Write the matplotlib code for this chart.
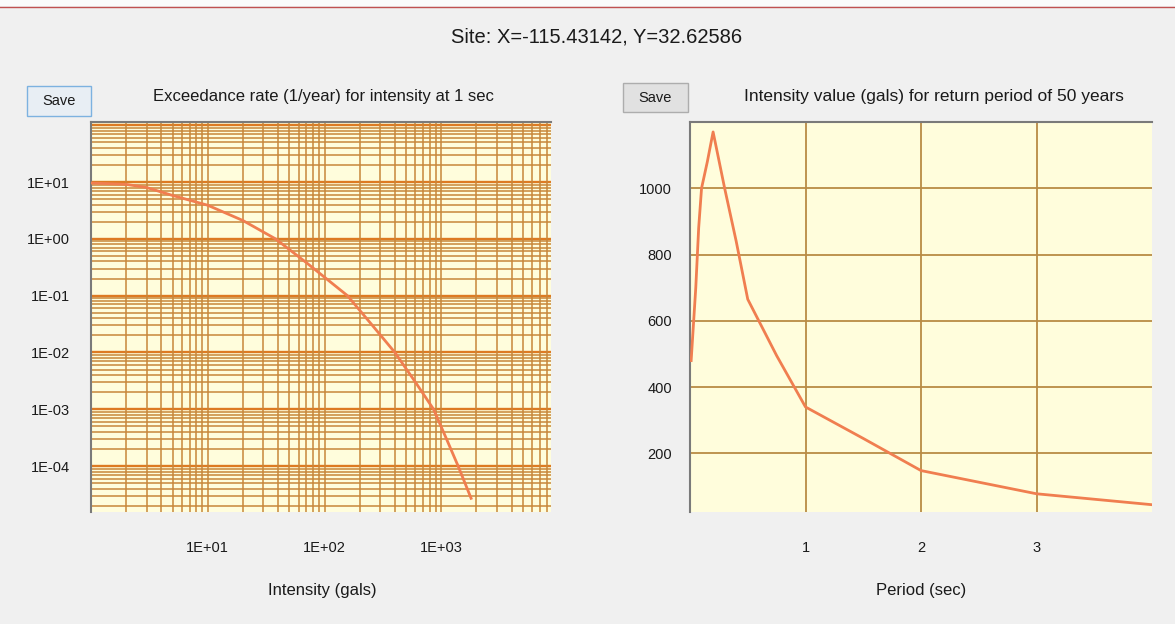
import matplotlib
matplotlib.use("Agg")
import matplotlib.pyplot as plt
from matplotlib.patches import Rectangle
from matplotlib.ticker import FixedLocator, NullFormatter, FuncFormatter
import numpy as np

# ---------------- data ----------------
site_title = "Site: X=-115.43142, Y=32.62586"
left_title = "Exceedance rate (1/year) for intensity at 1 sec"
right_title = "Intensity value (gals) for return period of 50 years"
left_xlabel = "Intensity (gals)"
right_xlabel = "Period (sec)"

intensity = [1, 2, 3, 5, 10, 20, 38, 70, 157, 250, 400, 600, 858, 1100, 1393, 1800]
exceed_rate = [9.6, 9.1, 8.0, 5.8, 3.9, 2.1, 1.0, 0.38, 0.1, 0.032, 0.01, 0.003,
               0.001, 0.00031, 0.0001, 0.000027]

period = [0.01, 0.05, 0.075, 0.1, 0.15, 0.2, 0.3, 0.4, 0.5, 0.75, 1.0, 1.5, 2.0, 3.0, 4.0]
spectral = [480, 700, 880, 1000, 1080, 1170, 1000, 840, 665, 495, 340, 245, 148, 78, 45]

left_yticks = [1e1, 1e0, 1e-1, 1e-2, 1e-3, 1e-4]
left_xticks = [1e1, 1e2, 1e3]
right_xticks = [1, 2, 3]
right_yticks = [200, 400, 600, 800, 1000]

# ---------------- styling ----------------
W, H = 1175, 624
BG = "#F0F0F0"
AX_BG = "#FFFDDC"
GRID = "#C8873A"
GRID_MAJ = "#DD7A22"
GRID_R = "#B98C45"
SPINE = "#7A7A7A"
LINE = "#F07E50"
TXT = "#1A1A1A"
FONT = ["Liberation Sans", "DejaVu Sans"]
plt.rcParams["font.family"] = FONT

fig = plt.figure(figsize=(W / 100, H / 100), dpi=100, facecolor=BG)


def fx(px):
    return px / W


def fy(py):
    return 1 - py / H


# window decoration
fig.patches.append(Rectangle((0, fy(6)), 1, 6 / H, transform=fig.transFigure,
                             facecolor="#FAFAFA", edgecolor="none", zorder=0))
fig.add_artist(plt.Line2D([0, 1], [fy(6.5), fy(6.5)], transform=fig.transFigure,
                          color="#C05050", lw=1.0))

# site title
fig.text(fx(597), fy(37), site_title, ha="center", va="center", fontsize=14.5, color=TXT)


def button(x0, y0, x1, y1, edge, face):
    fig.patches.append(Rectangle((fx(x0), fy(y1)), fx(x1) - fx(x0), fy(y0) - fy(y1),
                                 transform=fig.transFigure, facecolor=face,
                                 edgecolor=edge, lw=1.0))
    fig.text(fx((x0 + x1) / 2), fy((y0 + y1) / 2), "Save", ha="center", va="center",
             fontsize=10.5, color=TXT)


button(27, 86, 91, 116, "#7DB2E0", "#E8EEF4")
button(623, 83, 688, 112, "#ADADAD", "#E1E1E1")

# ---------------- left plot ----------------
L = dict(x0=91, x1=551, y0=122, y1=512)
axL = fig.add_axes([fx(L["x0"]), fy(L["y1"]), fx(L["x1"] - L["x0"]), (L["y1"] - L["y0"]) / H])
axL.set_facecolor(AX_BG)
axL.set_xscale("log")
axL.set_yscale("log")
axL.set_xlim(1, 8700)
axL.set_ylim(1.55e-5, 114)

xminor = [m * 10 ** e for e in range(0, 4) for m in range(1, 10)]
yminor = [m * 10.0 ** e for e in range(-5, 3) for m in range(2, 10)]
axL.xaxis.set_minor_locator(FixedLocator(xminor))
axL.yaxis.set_minor_locator(FixedLocator(yminor))
axL.xaxis.set_minor_formatter(NullFormatter())
axL.yaxis.set_minor_formatter(NullFormatter())
axL.set_xticks(left_xticks)
axL.set_yticks(left_yticks)
fmt = FuncFormatter(lambda v, p: "1E%+03d" % int(round(np.log10(v))))
axL.xaxis.set_major_formatter(fmt)
axL.yaxis.set_major_formatter(fmt)

for e in range(-5, 3):
    axL.axhline(10.0 ** e, color=GRID_MAJ, lw=1.7, zorder=1)
for v in yminor:
    axL.axhline(v, color=GRID, lw=1.1, zorder=1)
for v in xminor:
    axL.axvline(v, color=GRID, lw=1.1, zorder=1)

axL.plot(intensity, exceed_rate, color=LINE, lw=2.0, zorder=3)

axL.tick_params(which="both", length=0, labelsize=10.5, colors=TXT)
axL.tick_params(axis="x", pad=21)
axL.tick_params(axis="y", pad=15)
for s in ("bottom", "right"):
    axL.spines[s].set_visible(False)
for s in ("left", "top"):
    axL.spines[s].set_color(SPINE)
    axL.spines[s].set_linewidth(1.5)

fig.text(fx(323), fy(97), left_title, ha="center", va="center", fontsize=12, color=TXT)
fig.text(fx(322), fy(591), left_xlabel, ha="center", va="center", fontsize=12, color=TXT)

# ---------------- right plot ----------------
R = dict(x0=690, x1=1152, y0=122, y1=512)
axR = fig.add_axes([fx(R["x0"]), fy(R["y1"]), fx(R["x1"] - R["x0"]), (R["y1"] - R["y0"]) / H])
axR.set_facecolor(AX_BG)
axR.set_xlim(0, 4)
axR.set_ylim(23, 1200)
axR.set_xticks(right_xticks)
axR.set_yticks(right_yticks)
axR.grid(True, color=GRID_R, lw=1.3, zorder=1)
axR.set_axisbelow(True)
axR.plot(period, spectral, color=LINE, lw=2.0, zorder=3)
axR.tick_params(length=0, labelsize=10.5, colors=TXT)
axR.tick_params(axis="x", pad=21)
axR.tick_params(axis="y", pad=13)
for s in ("bottom", "right"):
    axR.spines[s].set_visible(False)
for s in ("left", "top"):
    axR.spines[s].set_color(SPINE)
    axR.spines[s].set_linewidth(1.5)

fig.text(fx(934), fy(97), right_title, ha="center", va="center", fontsize=12.5, color=TXT)
fig.text(fx(921), fy(591), right_xlabel, ha="center", va="center", fontsize=12, color=TXT)

fig.savefig("out.png", dpi=100, facecolor=BG)
